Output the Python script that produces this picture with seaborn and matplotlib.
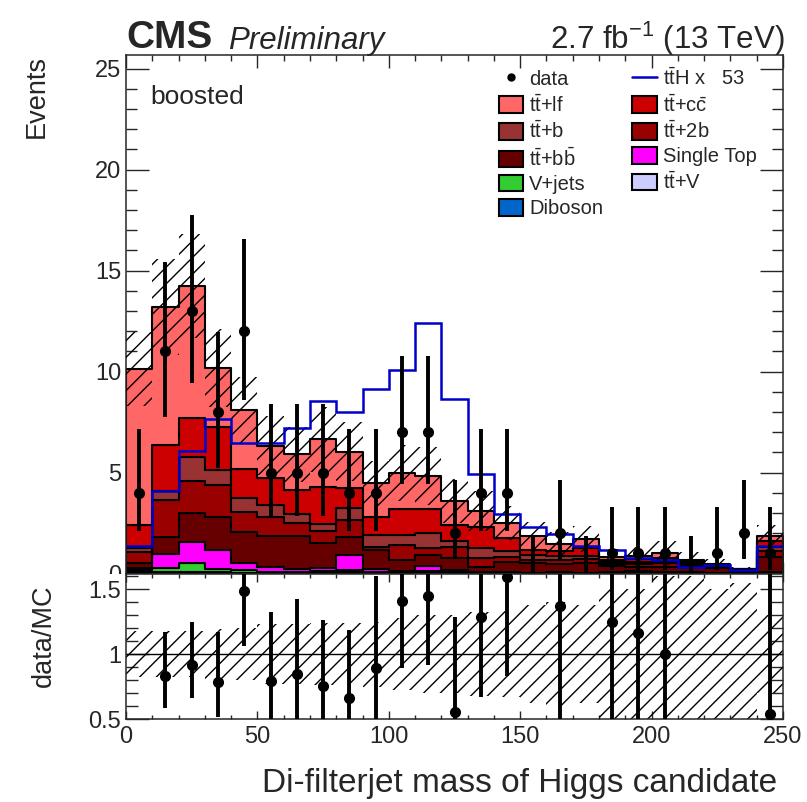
import numpy as np
import pandas as pd
import matplotlib
matplotlib.use("Agg")
import matplotlib.pyplot as plt
from matplotlib.ticker import MultipleLocator, FixedLocator, FuncFormatter
from matplotlib.patches import Patch, Rectangle
from matplotlib.lines import Line2D
import seaborn as sns

# ---------------- data ----------------
bin_edges = list(range(0, 251, 10))

tt_lf = [7.72, 6.84, 6.55, 2.92, 2.93, 1.62, 1.75, 2.37, 1.81, 1.67, 1.78, 1.65, 1.20,
         0.79, 0.77, 0.70, 0.36, 0.46, 0.15, 0.16, 0.25, 0.07, 0.05, 0.01, 0.26]
tt_cc = [1.15, 2.28, 1.93, 2.15, 1.44, 1.32, 1.20, 1.82, 0.99, 0.90, 1.28, 1.19, 0.78,
         1.07, 0.63, 0.24, 0.25, 0.40, 0.10, 0.15, 0.15, 0.10, 0.04, 0.02, 0.30]
tt_b = [0.17, 0.44, 1.17, 0.74, 0.66, 0.58, 0.45, 0.33, 0.58, 0.57, 0.49, 0.74, 0.32,
        0.50, 0.28, 0.25, 0.20, 0.15, 0.10, 0.10, 0.10, 0.08, 0.06, 0.03, 0.20]
tt_2b = [0.58, 1.82, 1.60, 1.60, 0.99, 0.95, 0.62, 0.62, 0.83, 0.17, 0.74, 0.33, 0.55,
         0.41, 0.25, 0.17, 0.20, 0.20, 0.10, 0.15, 0.20, 0.12, 0.07, 0.05, 0.30]
tt_bb = [0.24, 0.85, 1.44, 1.62, 1.55, 1.52, 1.64, 1.23, 0.90, 0.95, 0.57, 0.53, 0.58,
         0.26, 0.52, 0.46, 0.39, 0.46, 0.30, 0.20, 0.22, 0.24, 0.22, 0.07, 0.74]
single_top = [0.09, 0.72, 1.04, 0.96, 0.37, 0.28, 0.18, 0.17, 0.77, 0.13, 0.05, 0.25, 0.12,
              0.04, 0.03, 0.02, 0.04, 0.02, 0.03, 0.08, 0.06, 0.01, 0.01, 0.01, 0.02]
v_jets = [0.12, 0.20, 0.42, 0.15, 0.12, 0.04, 0.03, 0.02, 0.05, 0.03, 0.03, 0.11, 0.03,
          0.02, 0.01, 0.01, 0.01, 0.01, 0.01, 0.01, 0.01, 0.04, 0.01, 0.01, 0.02]
tt_v = [0.04, 0.04, 0.06, 0.04, 0.02, 0.01, 0.02, 0.06, 0.07, 0.04, 0.01, 0.02, 0.01,
        0.01, 0.01, 0.005, 0.005, 0.005, 0.005, 0.005, 0.005, 0.005, 0.005, 0.002, 0.01]
diboson = [0.01, 0.01, 0.02, 0.01, 0.01, 0.01, 0.01, 0.02, 0.03, 0.01, 0.01, 0.01, 0.01,
           0.01, 0.01, 0.005, 0.005, 0.005, 0.005, 0.005, 0.005, 0.005, 0.005, 0.008, 0.01]

tth_x53 = [1.38, 4.10, 6.05, 7.63, 6.44, 6.44, 7.22, 8.55, 8.01, 9.12, 10.07, 12.42, 8.62,
           4.93, 2.93, 2.32, 1.96, 1.36, 1.16, 0.75, 0.67, 0.34, 0.42, 0.17, 1.38]

data = [4, 11, 13, 8, 12, 5, 5, 5, 4, 4, 7, 7, 2, 4, 4, 0, 2, 0, 1, 1, 1, 0, 1, 2, 1]
data_err_lo = [1.91, 3.27, 3.57, 2.77, 3.43, 2.16, 2.16, 2.16, 1.91, 1.91, 2.58, 2.58, 1.29,
               1.91, 1.91, 0.0, 1.29, 0.0, 0.83, 0.83, 0.83, 0.0, 0.83, 1.29, 0.83]
data_err_hi = [3.16, 4.43, 4.73, 3.95, 4.58, 3.38, 3.38, 3.38, 3.16, 3.16, 3.77, 3.77, 2.64,
               3.16, 3.16, 1.84, 2.64, 1.84, 2.30, 2.30, 2.30, 1.84, 2.30, 2.64, 2.30]

# relative MC uncertainty (hatched band)
mc_rel_unc = [0.18, 0.18, 0.18, 0.19, 0.20, 0.23, 0.23, 0.24, 0.24, 0.25, 0.28, 0.30, 0.30,
              0.32, 0.33, 0.38, 0.40, 0.38, 0.50, 0.50, 0.60, 0.60, 0.50, 0.55, 0.30]

process_names = [r"t$\bar{\rm t}$+lf", r"t$\bar{\rm t}$+c$\bar{\rm c}$", r"t$\bar{\rm t}$+b",
                 r"t$\bar{\rm t}$+2b", r"t$\bar{\rm t}$+b$\bar{\rm b}$", "Single Top",
                 "V+jets", r"t$\bar{\rm t}$+V", "Diboson"]
process_colors = ["#ff6666", "#cc0000", "#993333", "#990000", "#660000", "#ff00ff",
                  "#33cc33", "#ccccff", "#0066cc"]
tth_label = r"t$\bar{\rm t}$H x   53"
x_label = "Di-filterjet mass of Higgs candidate"

# ---------------- build table ----------------
edges = np.array(bin_edges, dtype=float)
centers = 0.5 * (edges[:-1] + edges[1:])
series = [tt_lf, tt_cc, tt_b, tt_2b, tt_bb, single_top, v_jets, tt_v, diboson]
rows = []
for name, vals in zip(process_names, series):
    for c, v in zip(centers, vals):
        rows.append({"mass": float(c), "events": v, "process": name})
df = pd.DataFrame(rows)
mc_total = np.sum(np.array(series, dtype=float), axis=0)
data_arr = np.array(data, dtype=float)

# ---------------- style ----------------
sns.set_style("ticks")
plt.rcParams["font.family"] = ["Liberation Sans", "DejaVu Sans"]
plt.rcParams["mathtext.fontset"] = "custom"
plt.rcParams["mathtext.rm"] = "Liberation Sans"
plt.rcParams["mathtext.it"] = "Liberation Sans:italic"
plt.rcParams["mathtext.bf"] = "Liberation Sans:bold"
plt.rcParams["hatch.linewidth"] = 1.0
plt.rcParams["axes.linewidth"] = 1.1

W, H = 807, 802
fig = plt.figure(figsize=(W / 100, H / 100), dpi=100)
x0, x1 = 126 / W, 783 / W
ax = fig.add_axes([x0, 1 - 573.5 / H, x1 - x0, (573.5 - 55) / H])
axr = fig.add_axes([x0, 1 - 719 / H, x1 - x0, (719 - 573.5) / H])
ax.set_zorder(1)
axr.set_zorder(3)
axr.patch.set_facecolor("white")
# lower pad (as in ROOT) covers the lower part of the upper pad's "0" label
fig.patches.append(Rectangle((60 / W, 1 - 600 / H), 66 / W, 26.5 / H,
                             transform=fig.transFigure, facecolor="white",
                             edgecolor="none", zorder=2))

palette = dict(zip(process_names, process_colors))
sns.histplot(data=df, x="mass", weights="events", hue="process", hue_order=process_names,
             palette=palette, multiple="stack", element="step", bins=bin_edges, fill=True,
             alpha=1, edgecolor="black", linewidth=1.5, legend=False, ax=ax)

# MC uncertainty band
ext = lambda a: np.append(a, a[-1])
unc = mc_total * np.array(mc_rel_unc)
ax.fill_between(edges, ext(mc_total - unc), ext(mc_total + unc), step="post",
                facecolor="none", edgecolor="black", hatch="//", linewidth=0, zorder=3)

# ttH line
ax.stairs(tth_x53, edges, baseline=None, color="#0000cc", linewidth=1.8, zorder=4)

# data
ax.errorbar(centers, data_arr, yerr=[data_err_lo, data_err_hi], fmt="none",
            ecolor="black", elinewidth=2.8, capsize=0, zorder=5)
nz = data_arr > 0
ax.plot(centers[nz], data_arr[nz], "o", color="black", markersize=7, zorder=6)

ax.set_xlim(0, 250)
ax.set_ylim(0, 25.67)
ax.set_xlabel("")
ax.set_ylabel("Events", fontsize=19.5, loc="top")
ax.yaxis.set_label_coords(-0.116, 1.0)
ax.xaxis.set_major_locator(MultipleLocator(50))
ax.xaxis.set_minor_locator(MultipleLocator(10))
ax.yaxis.set_major_locator(MultipleLocator(5))
ax.yaxis.set_minor_locator(MultipleLocator(1))
ax.tick_params(axis="both", which="both", direction="in", top=True, right=True,
               labelsize=17, width=1.0)
ax.tick_params(axis="x", labelbottom=False)
ax.tick_params(axis="y", which="major", length=16.5)
ax.tick_params(axis="y", which="minor", length=8)
ax.tick_params(axis="x", which="major", length=9)
ax.tick_params(axis="x", which="minor", length=4.5)

ax.text((150 - 126) / 657, (573.5 - 97) / 518.5, "boosted", transform=ax.transAxes,
        fontsize=19, ha="left", va="center")

# legend
handles = [
    Line2D([], [], marker="o", color="black", linestyle="none", markersize=5),
    Patch(facecolor=palette[process_names[0]], edgecolor="black", linewidth=1.5),
    Patch(facecolor=palette[process_names[2]], edgecolor="black", linewidth=1.5),
    Patch(facecolor=palette[process_names[4]], edgecolor="black", linewidth=1.5),
    Patch(facecolor=palette[process_names[6]], edgecolor="black", linewidth=1.5),
    Patch(facecolor=palette[process_names[8]], edgecolor="black", linewidth=1.5),
    Line2D([], [], color="#0000cc", linewidth=1.8),
    Patch(facecolor=palette[process_names[1]], edgecolor="black", linewidth=1.5),
    Patch(facecolor=palette[process_names[3]], edgecolor="black", linewidth=1.5),
    Patch(facecolor=palette[process_names[5]], edgecolor="black", linewidth=1.5),
    Patch(facecolor=palette[process_names[7]], edgecolor="black", linewidth=1.5),
]
labels = ["data", process_names[0], process_names[2], process_names[4], process_names[6],
          process_names[8], tth_label, process_names[1], process_names[3], process_names[5],
          process_names[7]]
ax.legend(handles, labels, ncol=2, frameon=False, fontsize=14.5,
          loc="upper left", bbox_to_anchor=((499 - 126) / 657, (573.5 - 67) / 518.5),
          handlelength=1.2, handleheight=0.9, handletextpad=0.3, labelspacing=0.24,
          columnspacing=1.45, borderpad=0, borderaxespad=0)

# header texts
fig.text(126 / W, 1 - 48.5 / H, "CMS", fontsize=28, fontweight="bold", ha="left",
         va="baseline")
fig.text(228 / W, 1 - 48.5 / H, "Preliminary", fontsize=22.5, fontstyle="italic",
         ha="left", va="baseline")
fig.text(785 / W, 1 - 48.5 / H, r"2.7 fb$^{\mathregular{-1}}$ (13 TeV)", fontsize=22.5,
         ha="right", va="baseline")

# ---------------- ratio panel ----------------
rel = np.array(mc_rel_unc)
axr.fill_between(edges, ext(1 - rel), ext(1 + rel), step="post", facecolor="none",
                 edgecolor="black", hatch="//", linewidth=0, zorder=1)
axr.axhline(1.0, color="black", linewidth=1.0, zorder=2)
ratio = data_arr / mc_total
r_lo = np.array(data_err_lo) / mc_total
r_hi = np.array(data_err_hi) / mc_total
show = (data_arr > 0) & (ratio >= 0.5) & (ratio <= 1.62)
axr.errorbar(centers[show], ratio[show], yerr=[r_lo[show], r_hi[show]], fmt="o",
             color="black", markersize=7, elinewidth=2.8, capsize=0, zorder=3)
axr.set_xlim(0, 250)
axr.set_ylim(0.5, 1.62)
axr.xaxis.set_major_locator(MultipleLocator(50))
axr.xaxis.set_minor_locator(MultipleLocator(10))
axr.yaxis.set_major_locator(FixedLocator([0.5, 1.0, 1.5]))
axr.yaxis.set_minor_locator(MultipleLocator(0.1))
axr.yaxis.set_major_formatter(FuncFormatter(lambda v, p: f"{v:g}"))
axr.tick_params(axis="both", which="both", direction="in", top=True, right=True,
                labelsize=17, width=1.0)
axr.tick_params(axis="y", which="major", length=16.5)
axr.tick_params(axis="y", which="minor", length=8.5)
axr.tick_params(axis="x", which="major", length=6, pad=5)
axr.tick_params(axis="x", which="minor", length=3)
axr.set_ylabel("data/MC", fontsize=19.5)
axr.yaxis.set_label_coords(-0.105, 0.574)
axr.set_xlabel(x_label, fontsize=24, loc="right")
axr.xaxis.set_label_coords(0.991, -0.34)

fig.savefig("out.png", dpi=100)
